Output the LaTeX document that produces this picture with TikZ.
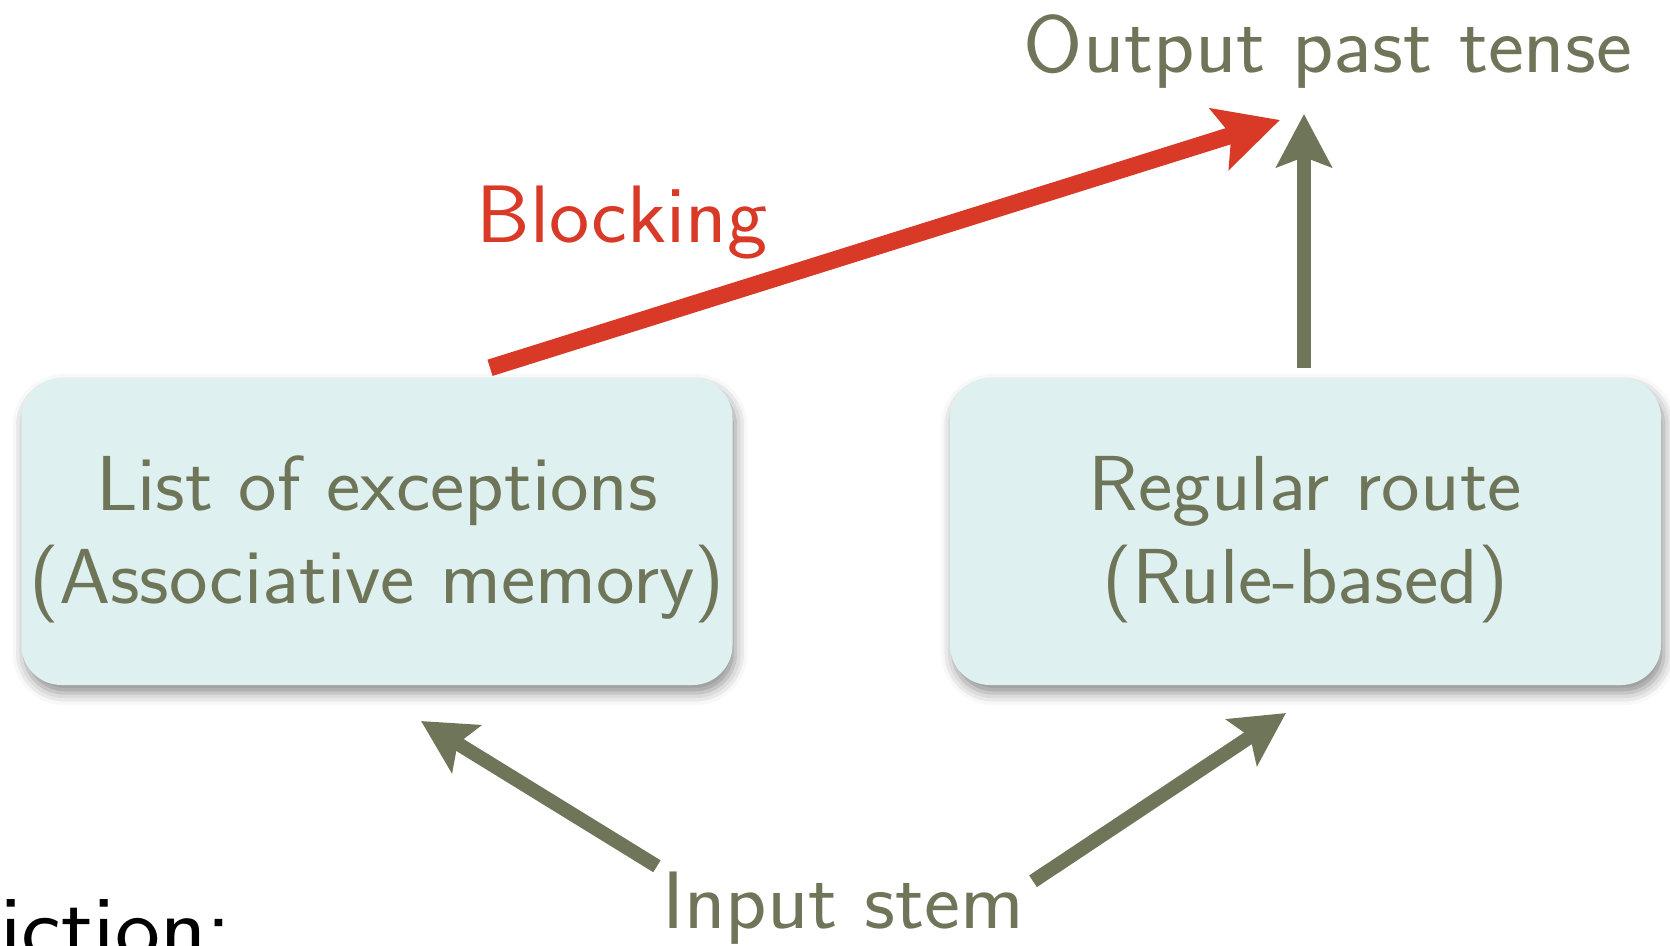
\documentclass[tikz,border=0pt]{standalone}
\usepackage{fontspec}
\setsansfont{Latin Modern Sans}[FakeStretch=1.05]
\usetikzlibrary{arrows.meta}
\usetikzlibrary{shadows.blur}
\definecolor{olivegrey}{RGB}{111,117,88}
\definecolor{blockred}{RGB}{217,58,40}
\definecolor{boxfill}{RGB}{222,241,240}

\begin{document}
\begin{tikzpicture}[x=1pt,y=-1pt,
  route/.style={fill=boxfill, rounded corners=40pt, inner sep=0pt,
    minimum width=711pt, minimum height=307pt, align=center, text=olivegrey,
    font=\sffamily\fontsize{78pt}{93pt}\selectfont,
    blur shadow={shadow xshift=3pt, shadow yshift=-8pt, shadow blur radius=12pt, shadow opacity=45}},
  lbl/.style={inner sep=0pt, anchor=base, text=olivegrey, font=\sffamily\fontsize{81.5pt}{81.5pt}\selectfont},
  arr/.style={draw=olivegrey, line width=14pt, -{Stealth[length=53pt,width=55pt,inset=10pt]}},
  redarr/.style={draw=blockred, line width=17pt, -{Stealth[length=63pt,width=63pt,inset=12pt]}}]
  \useasboundingbox (0,0) rectangle (1670,945);

  \node[route] (exc) at (377,531.5) {\rule{0pt}{80pt}List of exceptions\\(Associative memory)\rule[-30pt]{0pt}{0pt}};
  \node[route] (reg) at (1305.5,531.5) {\rule{0pt}{80pt}Regular route\\(Rule-based)\rule[-30pt]{0pt}{0pt}};

  \node[lbl] (out) at (1328,72) {Output past tense};
  \node[lbl, text=blockred] (blk) at (622,242) {Blocking};
  \node[lbl] (inp) at (843,928) {Input stem};
  \node[inner sep=0pt, anchor=base west, font=\sffamily\fontsize{91pt}{91pt}\selectfont] (cut) at (0,958) {iction:};

  \coordinate (redtip) at (1280,120);
  \coordinate (uptip) at (1304,114);
  \coordinate (lefttip) at (421,721);
  \coordinate (righttip) at (1286,713);

  \draw[redarr] ([xshift=113pt,yshift=10pt]exc.north) -- (redtip);
  \draw[arr] ([xshift=-1.5pt,yshift=10pt]reg.north) -- (uptip);
  \draw[arr] ([xshift=-5pt,yshift=5pt]inp.north west) -- (lefttip);
  \draw[arr] ([xshift=9pt,yshift=-10pt]inp.north east) -- (righttip);
\end{tikzpicture}
\end{document}
